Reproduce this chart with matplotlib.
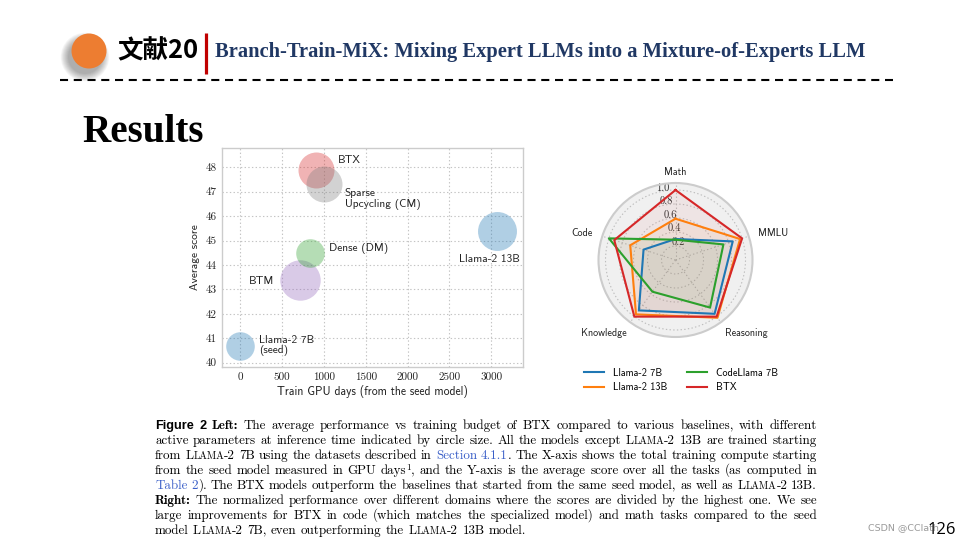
import matplotlib
matplotlib.use("Agg")
import matplotlib.pyplot as plt
import numpy as np
from matplotlib.patches import Circle

plt.rcParams["lines.scale_dashes"] = False
plt.rcParams["axes.unicode_minus"] = False

# ---------------- data ----------------
slide_tag = "文献20"
slide_title = "Branch-Train-MiX: Mixing Expert LLMs into a Mixture-of-Experts LLM"
section_title = "Results"

bubble_models = ["Llama-2 7B\n(seed)", "BTM", "Dense (DM)", "BTX", "Sparse\nUpcycling (CM)", "Llama-2 13B"]
gpu_days = [0, 710, 830, 900, 1000, 3070]
avg_score = [40.7, 43.4, 44.5, 47.9, 47.3, 45.4]
active_params_b = [7, 14, 7, 11.1, 11.1, 13]
x_ticks = [0, 500, 1000, 1500, 2000, 2500, 3000]
y_ticks = [40, 41, 42, 43, 44, 45, 46, 47, 48]
x_label = "Train GPU days (from the seed model)"
y_label = "Average score"

radar_categories = ["Math", "MMLU", "Reasoning", "Knowledge", "Code"]
radar_series = ["Llama-2 7B", "Llama-2 13B", "CodeLlama 7B", "BTX"]
llama7b_vals = [0.30, 0.86, 0.95, 0.89, 0.48]
llama13b_vals = [0.59, 0.97, 1.02, 0.96, 0.68]
codellama_vals = [0.29, 0.72, 0.84, 0.56, 1.00]
btx_vals = [1.00, 1.00, 1.00, 1.00, 0.92]
r_ticks = [0.2, 0.4, 0.6, 0.8, 1.0]
r_tick_labels = ["0.2", "0.4", "0.6", "0.8", "1.0"]

caption_lines = [
    [("Figure 2", "F"), (" ", "r"), ("Left:", "b"),
     (" The average performance vs training budget of BTX compared to various baselines, with different", "r")],
    [("active parameters at inference time indicated by circle size. All the models except L", "r"), ("LAMA", "s"),
     ("-2 13B are trained starting", "r")],
    [("from L", "r"), ("LAMA", "s"), ("-2 7B using the datasets described in ", "r"), ("Section 4.1.1", "l"),
     (". The X-axis shows the total training compute starting", "r")],
    [("from the seed model measured in GPU days", "r"), ("1", "u"),
     (", and the Y-axis is the average score over all the tasks (as computed in", "r")],
    [("Table 2", "l"), ("). The BTX models outperform the baselines that started from the same seed model, as well as L", "r"),
     ("LAMA", "s"), ("-2 13B.", "r")],
    [("Right:", "b"), (" The normalized performance over different domains where the scores are divided by the highest one. We see", "r")],
    [("large improvements for BTX in code (which matches the specialized model) and math tasks compared to the seed", "r")],
    [("model L", "r"), ("LAMA", "s"), ("-2 7B, even outperforming the L", "r"), ("LAMA", "s"), ("-2 13B model.", "r")],
]
footer_watermark = "CSDN @CClath"
page_number = "126"

# ---------------- figure ----------------
fig = plt.figure(figsize=(9.6, 5.4), dpi=100)
fig.patch.set_facecolor("white")
ax0 = fig.add_axes([0, 0, 1, 1])
ax0.set_xlim(0, 960)
ax0.set_ylim(540, 0)
ax0.axis("off")
renderer = fig.canvas.get_renderer()

try:
    from matplotlib.backends.backend_agg import get_hinting_flag
except Exception:
    get_hinting_flag = None


def fit_width(t, width):
    w = t.get_window_extent(renderer).width
    t.set_fontsize(t.get_fontsize() * width / w)


def snapped_baseline(tt, target):
    """y (in canvas pixels, downwards) that puts the rendered baseline exactly on row `target`."""
    try:
        font = renderer._prepare_font(tt.get_fontproperties())
        font.set_text(tt.get_text(), 0, flags=get_hinting_flag())
        w64, h64 = font.get_width_height()
        d64 = font.get_descent()
        ymax = (h64 - d64) / 64.0
        return target + h64 // 64 - np.floor(ymax) - d64 / 64.0
    except Exception:
        return target


# header decorations
for i in range(9):
    ax0.add_patch(Circle((85, 57), 17 + i * 0.9, color="black", alpha=0.04, lw=0))
ax0.add_patch(Circle((89, 51), 17.5, color="#ED7D31", lw=0))
t = ax0.text(117, 51, slide_tag, family=["Noto Sans CJK SC", "DejaVu Sans"], weight="bold",
             fontsize=19, va="center", ha="left", color="black")
fit_width(t, 81)
ax0.plot([206, 206], [33, 74], color="#C00000", lw=2.3, solid_capstyle="butt")
t = ax0.text(215, 52.5, slide_title, family="Liberation Serif", weight="bold", fontsize=14,
             va="center", ha="left", color="#203864")
fit_width(t, 650)
ax0.plot([60, 893], [80, 80], color="black", lw=1.5, linestyle=(0, (5.8, 4.1)))
t = ax0.text(82, 141.5, section_title, family="Liberation Serif", weight="bold", fontsize=26,
             va="baseline", ha="left", color="black")
fit_width(t, 122)

# ---------------- bubble chart ----------------
ax1 = fig.add_axes([222 / 960, (540 - 367) / 540, 301 / 960, 219 / 540])
bubble_colors = ["#1f77b4", "#9467bd", "#2ca02c", "#d62728", "#7f7f7f", "#1f77b4"]
label_offsets = [(13.7, 0), (-18.7, -0.7), (13.7, 2.7), (15.8, 6.8), (15.1, -10.8), (-27.4, -20.2)]
label_ha = ["left", "right", "left", "left", "left", "left"]
for i in range(len(bubble_models)):
    ax1.scatter([gpu_days[i]], [avg_score[i]], s=60.5 * active_params_b[i], color=bubble_colors[i],
                alpha=0.35, lw=0, zorder=3)
    ax1.annotate(bubble_models[i], xy=(gpu_days[i], avg_score[i]), xytext=label_offsets[i],
                 textcoords="offset points", ha=label_ha[i], va="center", family="cmss10",
                 fontsize=8.2, color="#222222", linespacing=1.1, zorder=4)
ax1.set_xlim(-220, 3380)
ax1.set_ylim(39.82, 48.79)
ax1.set_xticks(x_ticks)
ax1.set_xticklabels([str(v) for v in x_ticks], family="cmr10", fontsize=8.0, color="#222222")
ax1.set_yticks(y_ticks)
ax1.set_yticklabels([str(v) for v in y_ticks], family="cmr10", fontsize=8.0, color="#222222")
ax1.tick_params(length=0, pad=4)
ax1.grid(True, ls=":", color="#c4c4c4", lw=0.8, zorder=0)
for sp in ax1.spines.values():
    sp.set_color("#cccccc")
    sp.set_linewidth(1.0)
ax1.set_xlabel(x_label, family="cmss10", fontsize=8.4, color="#222222", labelpad=2)
ax1.set_ylabel(y_label, family="cmss10", fontsize=8.2, color="#222222", labelpad=4)

# ---------------- radar chart ----------------
ax2 = fig.add_axes([598.5 / 960, 203 / 540, 154 / 960, 154 / 540], projection="polar")
ax2.set_theta_offset(np.pi / 2)
ax2.set_theta_direction(-1)
angles = np.linspace(0, 2 * np.pi, len(radar_categories), endpoint=False)
radar_colors = ["#1f77b4", "#ff7f0e", "#2ca02c", "#d62728"]
handles = []
for vals, c, name in zip([llama7b_vals, llama13b_vals, codellama_vals, btx_vals], radar_colors, radar_series):
    a = list(angles) + [angles[0]]
    v = list(vals) + [vals[0]]
    ln, = ax2.plot(a, v, color=c, lw=1.5, label=name, zorder=3)
    ax2.fill(a, v, color=c, alpha=0.06, zorder=2)
    handles.append(ln)
ax2.set_facecolor("#f0f0f0")
ax2.set_ylim(0, 1.1)
ax2.set_yticks(r_ticks)
ax2.set_yticklabels(r_tick_labels, family="cmr10", fontsize=7.6, color="#333333")
ax2.set_rlabel_position(-16)
ax2.set_xticks(angles)
ax2.set_xticklabels([])
cat_r = [1.26, 1.243, 1.2, 1.2, 1.243]
cat_ha = ["center", "left", "left", "right", "right"]
cat_va = ["center", "center", "top", "top", "center"]
for ang, name, rr, ha, va in zip(angles, radar_categories, cat_r, cat_ha, cat_va):
    ax2.text(ang, rr, name, ha=ha, va=va, family="cmss10", fontsize=7.3, color="#222222")
ax2.grid(True, color="#bdbdbd", ls=":", lw=0.8)
ax2.spines["polar"].set_color("#cccccc")
ax2.spines["polar"].set_linewidth(1.5)

fig.legend(handles=handles, loc="center", bbox_to_anchor=(681 / 960, 1 - 380 / 540), ncol=2,
           frameon=False, prop=dict(family="cmss10", size=7.35), handlelength=2.0,
           handletextpad=0.85, columnspacing=1.9, labelspacing=0.45)

# ---------------- caption ----------------
style_font = {
    "r": dict(family="cmr10", weight="normal", color="black"),
    "b": dict(family="cmb10", weight="normal", color="black"),
    "F": dict(family="Liberation Sans", weight="bold", color="black"),
    "l": dict(family="cmr10", weight="normal", color="#3a5fc8"),
    "s": dict(family="cmr10", weight="normal", color="black"),
    "u": dict(family="cmr10", weight="normal", color="black"),
}
style_scale = {"r": 1.0, "b": 1.0, "F": 0.98, "l": 1.0, "s": 0.78, "u": 0.7}


def split_words(line):
    words = [[]]
    for text, st in line:
        parts = text.split(" ")
        for j, p in enumerate(parts):
            if j > 0:
                words.append([])
            if p:
                words[-1].append((p, st))
    return [w for w in words if w]


cap_left, cap_right = 155, 817
cap_base0, cap_step = 429, 15
base_fs = 10.0

line_words = [split_words(l) for l in caption_lines]
objs = []
for words in line_words:
    lo = []
    for w in words:
        wo = []
        for text, st in w:
            tt = ax0.text(0, 0, text, fontsize=base_fs * style_scale[st], va="baseline", ha="left",
                          **style_font[st])
            wo.append((tt, st))
        lo.append(wo)
    objs.append(lo)


def measure(lo):
    return [[tt.get_window_extent(renderer).width for tt, st in wo] for wo in lo]


ratios = []
for lo in objs[:-1]:
    ws = measure(lo)
    natural = sum(sum(w) for w in ws) + (len(ws) - 1) * 0.333 * base_fs * 100 / 72
    ratios.append((cap_right - cap_left) / natural)
fs = base_fs * float(np.median(ratios))
for lo in objs:
    for wo in lo:
        for tt, st in wo:
            tt.set_fontsize(fs * style_scale[st])

for li, lo in enumerate(objs):
    ws = measure(lo)
    wsum = sum(sum(w) for w in ws)
    if li < len(objs) - 1 and len(ws) > 1:
        gap = (cap_right - cap_left - wsum) / (len(ws) - 1)
    else:
        gap = 0.333 * fs * 100 / 72
    x = cap_left
    base = cap_base0 + li * cap_step
    for wo, w in zip(lo, ws):
        for (tt, st), pw in zip(wo, w):
            target = base - (4 if st == "u" else 0)
            tt.set_position((x, snapped_baseline(tt, target)))
            x += pw
        x += gap

# footer
ax0.text(868, 528, footer_watermark, family="DejaVu Sans", fontsize=6.8, color="#9a9a9a", va="center", ha="left")
ax0.text(928, 529.5, page_number, family="Open Sans", fontsize=12, color="black", va="center", ha="left")

fig.savefig("out.png", dpi=100, facecolor="white")
